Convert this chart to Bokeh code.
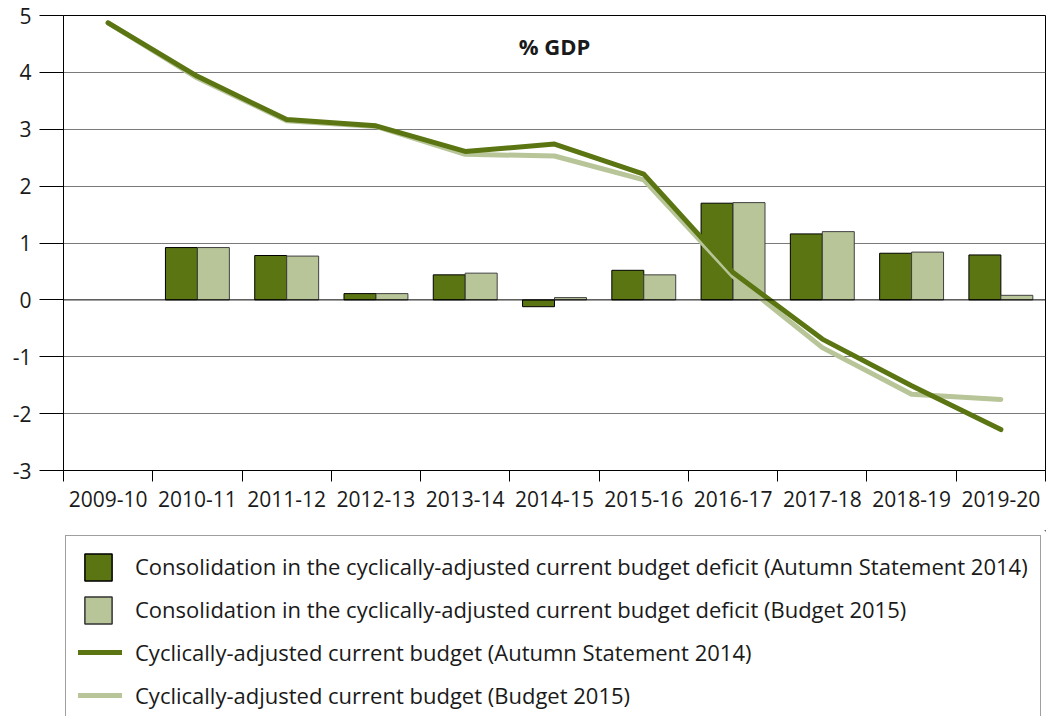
from bokeh.plotting import figure
from bokeh.layouts import column
from bokeh.models import (ColumnDataSource, FixedTicker, Legend, LegendItem, Span, Label, Range1d)
from bokeh.embed import file_html
from bokeh.resources import INLINE

categories = ["2009-10", "2010-11", "2011-12", "2012-13", "2013-14", "2014-15",
              "2015-16", "2016-17", "2017-18", "2018-19", "2019-20"]
consolidation_as2014 = [None, 0.92, 0.78, 0.11, 0.44, -0.12, 0.52, 1.70, 1.16, 0.82, 0.79]
consolidation_b2015 = [None, 0.92, 0.77, 0.11, 0.47, 0.04, 0.44, 1.71, 1.20, 0.84, 0.08]
cacb_as2014 = [4.87, 3.93, 3.17, 3.06, 2.61, 2.74, 2.21, 0.48, -0.69, -1.51, -2.28]
cacb_b2015 = [4.87, 3.90, 3.15, 3.05, 2.56, 2.53, 2.11, 0.42, -0.84, -1.66, -1.75]
y_ticks = [-3, -2, -1, 0, 1, 2, 3, 4, 5]

labels = [
    "Consolidation in the cyclically-adjusted current budget deficit (Autumn Statement 2014)",
    "Consolidation in the cyclically-adjusted current budget deficit (Budget 2015)",
    "Cyclically-adjusted current budget (Autumn Statement 2014)",
    "Cyclically-adjusted current budget (Budget 2015)",
]

DARK = "#5a7511"
LIGHT = "#b8c598"
FONT = "Open Sans"
TXT = "#1a1a1a"
BAR_W = 0.358

n = len(categories)
centers = [i + 0.5 for i in range(n)]

def bar_source(vals, offset):
    xs, tops = [], []
    for c, v in zip(centers, vals):
        if v is None:
            continue
        xs.append(c + offset)
        tops.append(v)
    return ColumnDataSource(dict(x=xs, top=tops))

p = figure(frame_width=982, frame_height=455, output_backend="svg", toolbar_location=None,
           x_range=Range1d(0, n), y_range=Range1d(-3, 5),
           min_border_left=63, min_border_right=1, min_border_top=15, min_border_bottom=60)
p.background_fill_color = "white"
p.border_fill_color = "white"
p.outline_line_color = "black"
p.outline_line_width = 1

# bars
src_a = bar_source(consolidation_as2014, -BAR_W / 2)
src_b = bar_source(consolidation_b2015, BAR_W / 2)
p.vbar(x="x", top="top", bottom=0, width=BAR_W, source=src_a,
       fill_color=DARK, line_color="black", line_width=1)
p.vbar(x="x", top="top", bottom=0, width=BAR_W, source=src_b,
       fill_color=LIGHT, line_color="#404040", line_width=1)

p.add_layout(Span(location=0, dimension="width", line_color="black", line_width=1))

# lines
p.line(centers, cacb_b2015, line_color=LIGHT, line_width=5, line_join="round", line_cap="round")
p.line(centers, cacb_as2014, line_color=DARK, line_width=5, line_join="round", line_cap="round")

# axes
p.xgrid.visible = False
p.ygrid.grid_line_color = "#7a7a7a"
p.ygrid.grid_line_width = 1
p.ygrid.ticker = FixedTicker(ticks=[-2, -1, 1, 2, 3, 4])

xa = p.xaxis[0]
xa.ticker = FixedTicker(ticks=centers, minor_ticks=list(range(n + 1)))
xa.major_label_overrides = {c: lab for c, lab in zip(centers, categories)}
xa.major_tick_out = 0
xa.major_tick_in = 0
xa.minor_tick_out = 11
xa.minor_tick_in = 0
xa.minor_tick_line_color = "black"
xa.axis_line_color = "black"
xa.major_label_text_font = FONT
xa.major_label_text_font_size = "21px"
xa.major_label_text_color = TXT
xa.major_label_standoff = 9

ya = p.yaxis[0]
ya.ticker = FixedTicker(ticks=y_ticks)
ya.major_label_overrides = {t: str(t) for t in y_ticks}
ya.major_tick_out = 24
ya.major_tick_in = 0
ya.minor_tick_out = 0
ya.minor_tick_in = 0
ya.major_tick_line_color = "black"
ya.axis_line_color = "black"
ya.major_label_text_font = FONT
ya.major_label_text_font_size = "21px"
ya.major_label_text_color = TXT
ya.major_label_standoff = 8

p.add_layout(Label(x=n / 2, y=4.47, text="% GDP", text_align="center", text_baseline="middle",
                   text_font=FONT, text_font_size="22px", text_font_style="bold", text_color=TXT))

# legend figure
q = figure(width=1046, height=186, output_backend="svg", toolbar_location=None,
           x_range=Range1d(0, 1), y_range=Range1d(0, 1),
           min_border_left=0, min_border_right=0, min_border_top=0, min_border_bottom=0)
q.axis.visible = False
q.grid.visible = False
q.outline_line_color = None
q.background_fill_color = "white"
q.border_fill_color = "white"

# legend proxies (placed outside the visible range)
proxy = ColumnDataSource(dict(x=[5, 6], y=[5, 5], top=[6, 6]))
blank = q.scatter("x", "y", source=proxy, marker="square", size=1, fill_alpha=0, line_alpha=0)
r3 = q.line("x", "y", source=proxy, line_color=DARK, line_width=5, line_cap="round")
r4 = q.line("x", "y", source=proxy, line_color=LIGHT, line_width=5, line_cap="round")
s1 = q.vbar(x="x", bottom="y", top="top", width=0.1, source=proxy,
            fill_color=DARK, line_color="black", line_width=1.5)
s2 = q.vbar(x="x", bottom="y", top="top", width=0.1, source=proxy,
            fill_color=LIGHT, line_color="#333333", line_width=1.5)

legend = Legend(items=[LegendItem(label=labels[0], renderers=[blank]),
                       LegendItem(label=labels[1], renderers=[blank]),
                       LegendItem(label=labels[2], renderers=[r3]),
                       LegendItem(label=labels[3], renderers=[r4])],
                location=(2, -10), orientation="vertical",
                glyph_width=44, glyph_height=36, label_height=36, spacing=7, padding=12,
                label_standoff=13, label_text_font=FONT, label_text_font_size="22px",
                label_text_color=TXT,
                border_line_color="#404040", border_line_width=1, background_fill_alpha=1,
                margin=0)
q.add_layout(legend, "center")

swatches = Legend(items=[LegendItem(label=" ", renderers=[s1]),
                         LegendItem(label=" ", renderers=[s2])],
                  location=(18, 89), orientation="vertical",
                  glyph_width=34, glyph_height=34, label_height=34, spacing=9, padding=0,
                  label_standoff=0, label_text_font_size="1px",
                  border_line_color=None, background_fill_alpha=0, margin=0)
q.add_layout(swatches, "center")

layout = column(p, q, spacing=0)
open("out.html", "w").write(file_html(layout, INLINE))
